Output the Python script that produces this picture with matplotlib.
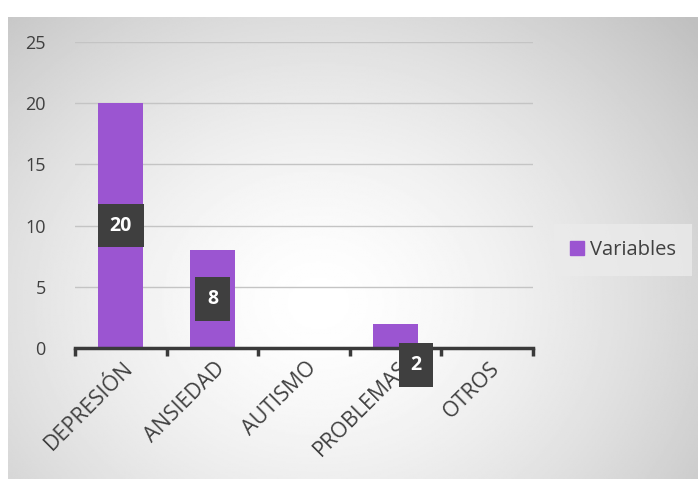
import numpy as np
import matplotlib.pyplot as plt
from matplotlib.patches import Rectangle
from matplotlib.transforms import ScaledTranslation

# chart data
categories = ['DEPRESIÓN', 'ANSIEDAD', 'AUTISMO', 'PROBLEMAS', 'OTROS']
values = [20, 8, 0, 2, 0]
series_name = 'Variables'
yticks = [0, 5, 10, 15, 20, 25]

color_bar = '#9b55d1'
color_font = '#404040'
color_label = '#3f3f3f'

plt.rcParams['font.family'] = ['Open Sans', 'DejaVu Sans']

W, H = 698, 479
fig = plt.figure(figsize=(W / 100, H / 100), dpi=100)
fig.patch.set_facecolor('white')

# radial grey background of the chart area
bg = fig.add_axes([8 / W, 0, (W - 8) / W, (H - 17) / H])
yy, xx = np.mgrid[0:1:300j, 0:1:440j]
r = np.sqrt(((xx - 0.45) / 0.75) ** 2 + ((yy - 0.62) / 0.95) ** 2)
shade = np.clip(1.0 - 0.26 * r ** 1.5, 0.75, 1.0)
bg.imshow(shade, cmap='gray', vmin=0, vmax=1, aspect='auto', origin='upper',
          extent=[0, 1, 0, 1])
bg.set_axis_off()

# plot area: x from 75 to 533 px, y=0 at 348, y=25 at 42
x0, x1 = 75, 533
ybot, ytop = 348, 42
ax = fig.add_axes([x0 / W, (H - ybot) / H, (x1 - x0) / W, (ybot - ytop) / H])
ax.set_facecolor('none')
x = np.arange(len(categories))
ax.bar(x, values, width=0.49, color=color_bar, zorder=3, label=series_name)
ax.set_xlim(-0.5, len(categories) - 0.5)
ax.set_ylim(0, 25)
ax.set_yticks(yticks)
ax.grid(axis='y', color='#c4c4c4', linewidth=1, zorder=0)
for s in ['top', 'right', 'left']:
    ax.spines[s].set_visible(False)
ax.spines['bottom'].set_color('#3a3a3a')
ax.spines['bottom'].set_linewidth(2.5)
ax.spines['bottom'].set_zorder(4)
ax.tick_params(axis='y', length=0, labelsize=13, labelcolor=color_font, pad=21)

# category boundary ticks
ax.set_xticks(np.arange(-0.5, len(categories), 1.0))
ax.set_xticklabels([])
ax.tick_params(axis='x', direction='out', length=6, width=2.5, color='#3a3a3a')
ax.set_xticks(x, minor=True)
ax.set_xticklabels(categories, minor=True, rotation=45, ha='right',
                   rotation_mode='anchor', fontsize=15.5, color=color_font)
ax.tick_params(axis='x', which='minor', length=0, pad=7)
for lbl in ax.get_xticklabels(minor=True):
    lbl.set_transform(lbl.get_transform() + ScaledTranslation(0.02, 0, fig.dpi_scale_trans))

# data labels in dark boxes
label_pos = [(0, 10), (1, 4), (3.22, -1.4)]
for (lx, ly), v in zip(label_pos, [values[0], values[1], values[3]]):
    ax.text(lx, ly, str(v), ha='center', va='center', fontsize=14,
            fontweight='bold', color='white', zorder=6, clip_on=False,
            bbox=dict(boxstyle='square,pad=0.6', facecolor=color_label,
                      edgecolor='none'))

# legend
leg = fig.legend(handles=[Rectangle((0, 0), 1, 1, color=color_bar)],
                 labels=[series_name], loc='center left',
                 bbox_to_anchor=(560 / W, (H - 250) / H), frameon=True,
                 fontsize=14.5, handlelength=0.7, handleheight=0.7,
                 handletextpad=0.3, borderpad=0.5, borderaxespad=0)
leg.get_frame().set_facecolor('#ebebeb')
leg.get_frame().set_edgecolor('none')
leg.get_frame().set_alpha(0.8)
leg.get_frame().set_boxstyle('square')
for t in leg.get_texts():
    t.set_color(color_font)

fig.savefig('out.png', dpi=100)
